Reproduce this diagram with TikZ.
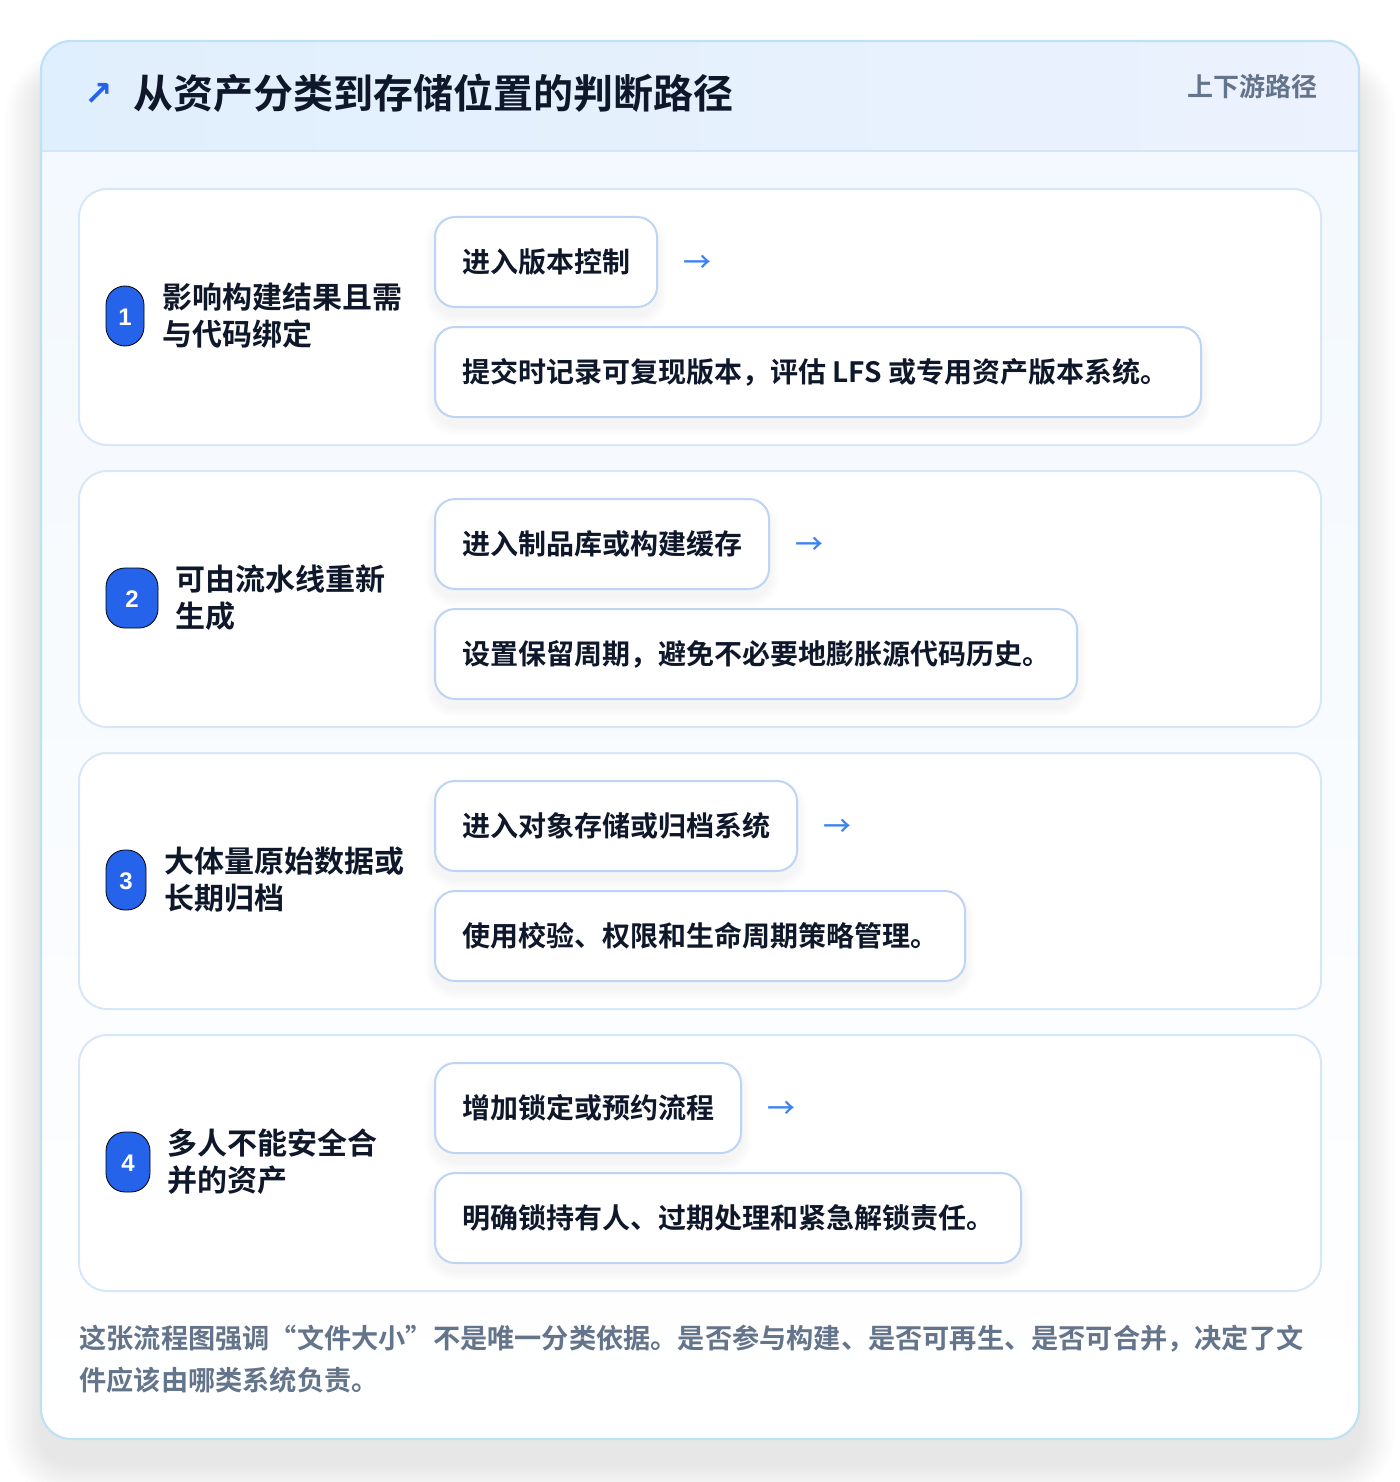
\documentclass[tikz,border=0pt]{standalone}
\usepackage{fontspec}
\setmainfont{Noto Sans CJK SC Medium}
\newfontfamily\cjkbold{Noto Sans CJK SC Bold}
\newfontfamily\symf{DejaVu Sans}
\newfontfamily\latsans{Liberation Sans}
\definecolor{titlec}{HTML}{0F172A}
\definecolor{badgec}{HTML}{2563EB}
\definecolor{slatec}{HTML}{64748B}
\definecolor{arrowc}{HTML}{3B82F6}
\definecolor{cardbd}{HTML}{D8E7F8}
\definecolor{boxbd}{HTML}{BDD5F3}
\definecolor{outerbd}{HTML}{BEE1F6}
\definecolor{hdrl}{HTML}{E0EFFD}
\definecolor{hdrr}{HTML}{ECF2FE}
\definecolor{bodyt}{HTML}{F2F8FE}
\definecolor{hdrline}{HTML}{D3E6F8}
\newcommand\boxshadow[4]{%
  \foreach \k in {1,...,5}{%
    \fill[black, opacity=0.009, rounded corners=10pt+\k pt]
      (#1-2*\k,#2-2*\k+8) rectangle (#3+2*\k,#4+2*\k+8);}}
\tikzset{
  x=0.5pt, y=-0.5pt,
  cardbox/.style={draw=cardbd, line width=1pt, fill=white, rounded corners=14pt},
  smallbox/.style={draw=boxbd, line width=1pt, fill=white, rounded corners=10pt},
  badgebox/.style={fill=badgec, rounded corners=9.5pt},
  badgetxt/.style={text=white, font=\latsans\bfseries\fontsize{12pt}{14pt}\selectfont, inner sep=0pt},
  labeltxt/.style={text=titlec, anchor=west, align=left, inner sep=0pt,
    font=\cjkbold\fontsize{15pt}{18.5pt}\selectfont},
  boxtxt/.style={text=titlec, anchor=west, inner sep=0pt,
    font=\cjkbold\fontsize{14pt}{16pt}\selectfont},
  arrtxt/.style={text=arrowc, anchor=west, inner sep=0pt,
    font=\fontsize{14pt}{16pt}\selectfont},
}
\begin{document}
\begin{tikzpicture}
\useasboundingbox (0,0) rectangle (1400,1482);
\fill[white] (0,0) rectangle (1400,1482);
% outer shadow
\foreach \k in {1,...,12}{%
  \fill[black, opacity=0.007, rounded corners=15pt+\k*1.5pt]
    (41-3*\k,41-2*\k+34) rectangle (1359+3*\k,1439+3*\k+24);}
% outer card body
\shade[top color=bodyt, bottom color=white, rounded corners=15pt] (41,41) rectangle (1359,1439);
% header
\begin{scope}
\clip[rounded corners=15pt] (41,41) rectangle (1359,1439);
\shade[left color=hdrl, right color=hdrr] (41,41) rectangle (1359,151);
\draw[hdrline, line width=1pt] (41,151) -- (1359,151);
\end{scope}
\draw[outerbd, line width=1.1pt, rounded corners=15pt] (41,41) rectangle (1359,1439);
% title
\node[text=badgec, anchor=west, inner sep=0pt, font=\symf\fontsize{17pt}{19pt}\selectfont\bfseries] (tarrow) at (84,94) {↗};
\node[text=titlec, anchor=west, inner sep=0pt, font=\cjkbold\fontsize{20pt}{24pt}\selectfont] (title) at (133,93) {从资产分类到存储位置的判断路径};
\node[text=slatec, anchor=east, inner sep=0pt, font=\cjkbold\fontsize{13pt}{15pt}\selectfont] (tag) at (1318,87) {上下游路径};

% ---------- card 1
\draw[cardbox] (79,189) rectangle (1321,445);
\draw[badgebox] (106,286) rectangle (144,346);
\node[badgetxt] (b1) at (125,317) {1};
\node[labeltxt] (l1) at (162,316) {影响构建结果且需\\与代码绑定};
\boxshadow{435}{217}{657}{307}
\draw[smallbox] (435,217) rectangle (657,307);
\node[boxtxt] (a1) at (462,262) {进入版本控制};
\node[arrtxt] (r1) at (683,264) {→};
\boxshadow{435}{327}{1201}{417}
\draw[smallbox] (435,327) rectangle (1201,417);
\node[boxtxt] (c1) at (462,372) {提交时记录可复现版本，评估 LFS 或专用资产版本系统。};

% ---------- card 2
\draw[cardbox] (79,471) rectangle (1321,727);
\draw[badgebox] (106,568) rectangle (158,628);
\node[badgetxt] (b2) at (132,599) {2};
\node[labeltxt] (l2) at (175,598) {可由流水线重新\\生成};
\boxshadow{435}{499}{769}{589}
\draw[smallbox] (435,499) rectangle (769,589);
\node[boxtxt] (a2) at (462,544) {进入制品库或构建缓存};
\node[arrtxt] (r2) at (795,546) {→};
\boxshadow{435}{609}{1077}{699}
\draw[smallbox] (435,609) rectangle (1077,699);
\node[boxtxt] (c2) at (462,654) {设置保留周期，避免不必要地膨胀源代码历史。};

% ---------- card 3
\draw[cardbox] (79,753) rectangle (1321,1009);
\draw[badgebox] (106,850) rectangle (146,910);
\node[badgetxt] (b3) at (126,881) {3};
\node[labeltxt] (l3) at (164,880) {大体量原始数据或\\长期归档};
\boxshadow{435}{781}{797}{871}
\draw[smallbox] (435,781) rectangle (797,871);
\node[boxtxt] (a3) at (462,826) {进入对象存储或归档系统};
\node[arrtxt] (r3) at (823,828) {→};
\boxshadow{435}{891}{965}{981}
\draw[smallbox] (435,891) rectangle (965,981);
\node[boxtxt] (c3) at (462,936) {使用校验、权限和生命周期策略管理。};

% ---------- card 4
\draw[cardbox] (79,1035) rectangle (1321,1291);
\draw[badgebox] (106,1132) rectangle (150,1192);
\node[badgetxt] (b4) at (128,1163) {4};
\node[labeltxt] (l4) at (167,1162) {多人不能安全合\\并的资产};
\boxshadow{435}{1063}{741}{1153}
\draw[smallbox] (435,1063) rectangle (741,1153);
\node[boxtxt] (a4) at (462,1108) {增加锁定或预约流程};
\node[arrtxt] (r4) at (767,1110) {→};
\boxshadow{435}{1173}{1021}{1263}
\draw[smallbox] (435,1173) rectangle (1021,1263);
\node[boxtxt] (c4) at (462,1218) {明确锁持有人、过期处理和紧急解锁责任。};

% ---------- footer
\node[text=slatec, anchor=north west, align=left, inner sep=0pt,
  font=\cjkbold\fontsize{13.6pt}{21pt}\selectfont] (foot) at (79,1325)
  {这张流程图强调“文件大小”不是唯一分类依据。是否参与构建、是否可再生、是否可合并，决定了文\\件应该由哪类系统负责。};
\end{tikzpicture}
\end{document}
